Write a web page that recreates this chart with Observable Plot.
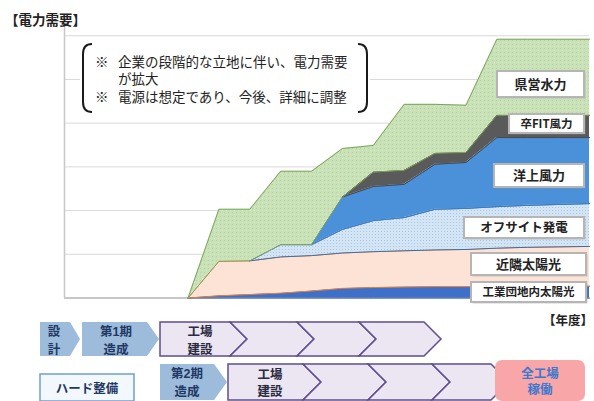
<!DOCTYPE html>
<html><head><meta charset="utf-8">
<script src="https://cdn.jsdelivr.net/npm/d3@7"></script>
<script src="https://cdn.jsdelivr.net/npm/@observablehq/plot@0.6"></script>
<style>
body{margin:0;background:#fff;}
#chart{width:594px;height:401px;overflow:hidden;}
</style></head><body><div id="chart"></div>
<script>
// fiscal-year index (year labels are not shown in the chart)
const years = d3.range(18);
const seriesNames = ["工業団地内太陽光","近隣太陽光","オフサイト発電","洋上風力","卒FIT風力","県営水力"];
const industrialSolar = [0,0,0,0,0,0.5,0.8,1.1,1.6,2.2,2.4,2.5,2.6,2.6,2.6,2.7,2.7,2.7];
const nearbySolar     = [0,0,0,0,0,7.9,7.7,8.3,8.1,8.1,8.2,8.3,8.4,8.5,8.8,8.9,9.0,9.1];
const offsite         = [0,0,0,0,0,0,0,2.8,2.5,5.4,7.1,7.6,9.3,9.4,9.5,9.6,9.7,9.8];
const offshoreWind    = [0,0,0,0,0,0,0,0,0,7.4,7.8,7.6,10.3,10.5,15.8,15.5,15.3,15.1];
const postFitWind     = [0,0,0,0,0,0,0,0,0,0,3.3,3.2,2.5,2.3,5.1,5.1,5.1,5.1];
const prefHydro       = [0,0,0,0,0,11.9,11.8,16.8,16.8,11.1,6.1,15.1,11.2,10.8,17.4,17.4,17.4,17.4];
const gridValues = [10,20,30,40,50,60];

const cols = [industrialSolar, nearbySolar, offsite, offshoreWind, postFitWind, prefHydro];
const fills = ["#3f70c9","#fce3d5","#d3e4f4","#4b91da","#5a5a5a","#c9e1b6"];
const strokes = ["#3461b5","#e8833a","#3f6fa6","#3d7cc4","#4a4a4a","#7fa460"];

// stack
const base = years.map(() => 0);
const stacked = cols.map((vals, k) => {
  const r = years.map((x, i) => ({series: seriesNames[k], x, y1: base[i], y2: base[i] + vals[i]}));
  years.forEach((x, i) => base[i] += vals[i]);
  return r;
});

const marks = [
  Plot.ruleY(gridValues, {stroke: "#d9d9d9", strokeWidth: 1}),
  Plot.ruleX([0], {stroke: "#c8c8c8", strokeWidth: 1.5}),
  Plot.ruleY([0], {stroke: "#c8c8c8", strokeWidth: 2})
];
stacked.forEach((rows, k) => {
  marks.push(Plot.areaY(rows, {x: "x", y1: "y1", y2: "y2", fill: fills[k], curve: "linear"}));
  const first = cols[k].findIndex(v => v > 0);
  const seg = rows.slice(Math.max(0, first - 1));
  marks.push(Plot.lineY(seg, {x: "x", y: "y1", stroke: strokes[k], strokeWidth: 1}));
  marks.push(Plot.lineY(seg, {x: "x", y: "y2", stroke: strokes[k], strokeWidth: 1}));
});

const chart = Plot.plot({
  width: 594, height: 401,
  marginLeft: 64, marginRight: 5, marginTop: 23, marginBottom: 103.5,
  x: {domain: [0, 17], axis: null},
  y: {domain: [0, 62.8], axis: null},
  style: {background: "#fff", fontFamily: "'Noto Sans CJK JP', sans-serif"},
  marks
});
document.getElementById("chart").appendChild(chart);

const svg = d3.select(chart);
const defs = svg.insert("defs", ":first-child");
const pb = defs.append("pattern").attr("id", "dotsBlue").attr("patternUnits", "userSpaceOnUse").attr("width", 3).attr("height", 3);
pb.append("rect").attr("width", 3).attr("height", 3).attr("fill", "#d3e4f4");
pb.append("rect").attr("width", 1).attr("height", 1).attr("fill", "#a8c7e6");
const pg = defs.append("pattern").attr("id", "dotsGreen").attr("patternUnits", "userSpaceOnUse").attr("width", 4).attr("height", 4);
pg.append("rect").attr("width", 4).attr("height", 4).attr("fill", "#c9e1b6");
pg.append("rect").attr("x", 0).attr("y", 0).attr("width", 1).attr("height", 1).attr("fill", "#b6d29f");
pg.append("rect").attr("x", 2).attr("y", 2).attr("width", 1).attr("height", 1).attr("fill", "#d8ebc9");
svg.selectAll('[fill="#d3e4f4"]').filter(function(){return this.tagName !== "rect";}).attr("fill", "url(#dotsBlue)");
svg.selectAll('[fill="#c9e1b6"]').filter(function(){return this.tagName !== "rect";}).attr("fill", "url(#dotsGreen)");

const FONT = "'Noto Sans CJK JP', sans-serif";
// tighter line box for stacked multi-line labels (CJK glyphs fall back to Noto CJK)
const FONT_TIGHT = "'Liberation Sans', 'Noto Sans CJK JP', sans-serif";
const g = svg.append("g").attr("font-family", FONT).attr("text-anchor", "start");

function multi(parent, lines, opts) {
  const t = parent.append("text").attr("font-size", opts.fs).attr("fill", opts.fill)
    .attr("font-family", FONT_TIGHT).attr("text-anchor", opts.anchor || "start");
  if (opts.bold) t.attr("font-weight", "bold");
  lines.forEach(([s, x, y]) => t.append("tspan").attr("x", x).attr("y", y).attr("dy", "0.36em").text(s));
  return t;
}

// annotation box
g.append("rect").attr("x", 80).attr("y", 41).attr("width", 290).attr("height", 73).attr("fill", "#fff");
g.append("path").attr("d", "M92,44 Q83,44 83,54 L83,102 Q83,112 92,112").attr("fill", "none").attr("stroke", "#1a1a1a").attr("stroke-width", 2);
g.append("path").attr("d", "M358,44 Q367,44 367,54 L367,102 Q367,112 358,112").attr("fill", "none").attr("stroke", "#1a1a1a").attr("stroke-width", 2);
multi(g, [["※", 95, 62.5], ["企業の段階的な立地に伴い、電力需要", 118, 62.5], ["が拡大", 118, 79.5], ["※", 95, 96.7], ["電源は想定であり、今後、詳細に調整", 118, 96.7]], {fs: 13.5, fill: "#222"});

// titles
g.append("text").attr("x", 5).attr("y", 20).attr("dy", "0.36em").attr("text-anchor", "start").attr("font-size", 13.5).attr("font-weight", "bold").attr("fill", "#222").text("【電力需要】");
g.append("text").attr("x", 593).attr("y", 320).attr("dy", "0.36em").attr("text-anchor", "end").attr("font-size", 12.5).attr("font-weight", "bold").attr("fill", "#222").text("【年度】");

// series labels
const labels = [
  ["県営水力", 497, 71, 87, 26, 13],
  ["卒FIT風力", 509, 114, 75, 19, 11.5],
  ["洋上風力", 494, 164, 90, 23, 13],
  ["オフサイト発電", 464, 217, 120, 21, 12.5],
  ["近隣太陽光", 471, 253, 115, 22, 13],
  ["工業団地内太陽光", 471, 282, 115, 20, 11.5]
];
labels.forEach(([t, x, y, w, h, fs]) => {
  g.append("rect").attr("x", x + 1.5).attr("y", y + 1.5).attr("width", w).attr("height", h).attr("fill", "#9a9a9a").attr("opacity", 0.45);
  g.append("rect").attr("x", x).attr("y", y).attr("width", w).attr("height", h).attr("fill", "#fff").attr("stroke", "#b5b5b5").attr("stroke-width", 2);
  g.append("text").attr("x", x + w / 2).attr("y", y + h / 2).attr("dy", "0.36em").attr("text-anchor", "middle").attr("font-size", fs).attr("font-weight", "bold").attr("fill", "#222").text(t);
});

// timeline
function chevron(L, S, T, top, bot, notch) {
  const mid = (top + bot) / 2, d = T - S;
  const pts = [[L, top], [S, top], [T, mid], [S, bot], [L, bot]];
  if (notch) pts.push([L + d, mid]);
  return "M" + pts.map(p => p.join(",")).join("L") + "Z";
}
const lightBlue = "#9dbbdb", navy = "#1f3864";
// row 1
g.append("path").attr("d", chevron(40, 70, 80, 322, 356, false)).attr("fill", lightBlue);
g.append("path").attr("d", chevron(82, 147, 159, 322, 356, false)).attr("fill", lightBlue);
const r1 = [[160, 230, 247, false], [230, 297, 314, true], [297, 359, 376, true], [359, 424, 441, true]];
r1.forEach(([L, S, T, n]) => g.append("path").attr("d", chevron(L, S, T, 322, 356, n)).attr("fill", "#ebe6f2").attr("stroke", "#5f4d8d").attr("stroke-width", 1.5));
// row 2
g.append("path").attr("d", chevron(160, 214, 227, 364, 400, false)).attr("fill", lightBlue);
const r2 = [[228, 303, 321, false], [303, 368, 386, true], [368, 432, 450, true], [432, 491, 509, true]];
r2.forEach(([L, S, T, n]) => g.append("path").attr("d", chevron(L, S, T, 364, 400, n)).attr("fill", "#ebe6f2").attr("stroke", "#5f4d8d").attr("stroke-width", 1.5));
g.append("rect").attr("x", 40).attr("y", 374).attr("width", 94).attr("height", 27).attr("fill", "#f3f8fd").attr("stroke", "#6f9fd6").attr("stroke-width", 1.5);
g.append("rect").attr("x", 495).attr("y", 360).attr("width", 90).attr("height", 41).attr("rx", 7).attr("fill", "#f8a6a7");

const tl = [
  [["設", 54, 331], ["計", 54, 349]], navy,
  [["第1期", 116, 331], ["造成", 116, 349]], navy,
  [["工場", 200, 331], ["建設", 200, 349]], "#2a2a40",
  [["第2期", 187, 373.5], ["造成", 187, 391]], navy,
  [["工場", 270, 374.5], ["建設", 270, 391.5]], "#2a2a40",
  [["ハード整備", 87, 388]], navy,
  [["全工場", 540, 373], ["稼働", 540, 389]], "#3b78cf"
];
for (let i = 0; i < tl.length; i += 2) {
  multi(g, tl[i], {fs: 12.5, fill: tl[i + 1], anchor: "middle", bold: true});
}
</script>
</body></html>
